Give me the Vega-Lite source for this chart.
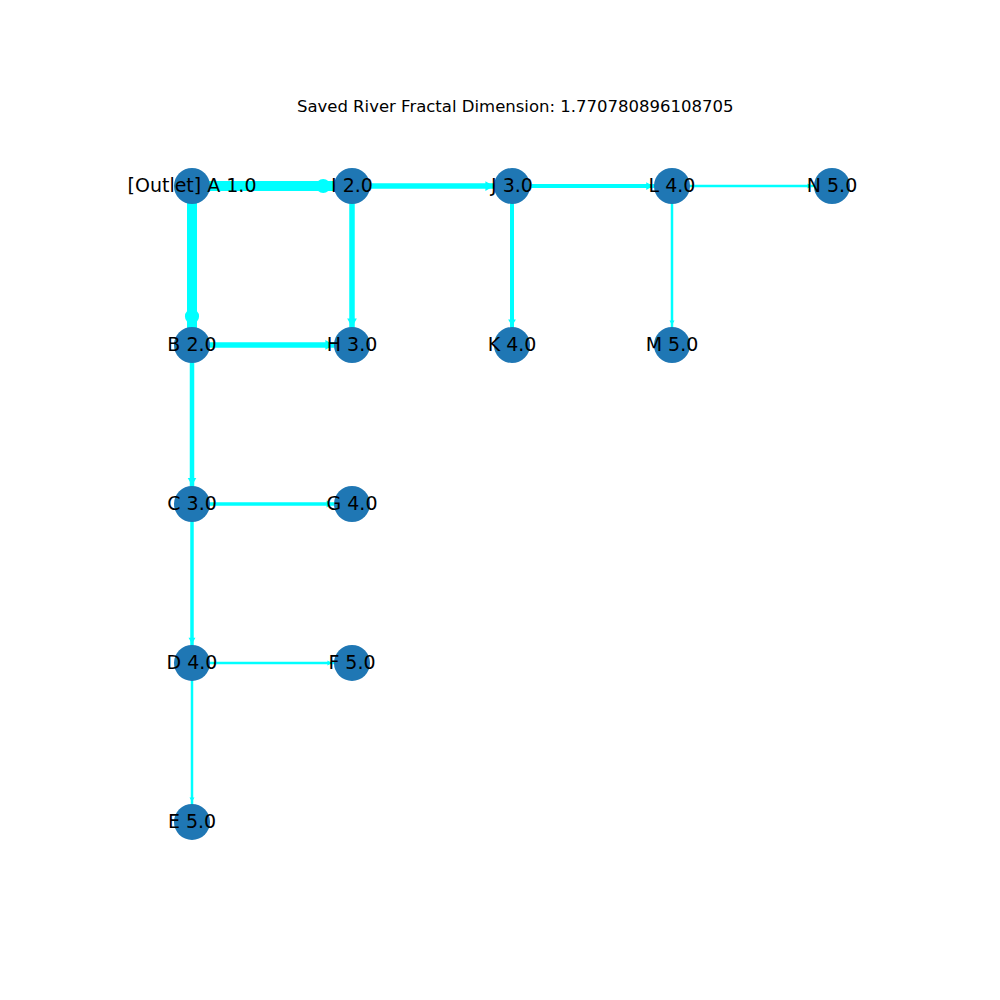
{
  "$schema": "https://vega.github.io/schema/vega-lite/v6.json",
  "width": 1000,
  "height": 1000,
  "autosize": {"type": "fit", "contains": "padding"},
  "padding": 0,
  "config": {"view": {"stroke": null}},
  "datasets": {
    "nodes": [
      {"name": "[Outlet] A 1.0", "x": 0, "y": 0},
      {"name": "I 2.0", "x": 1, "y": 0},
      {"name": "J 3.0", "x": 2, "y": 0},
      {"name": "L 4.0", "x": 3, "y": 0},
      {"name": "N 5.0", "x": 4, "y": 0},
      {"name": "B 2.0", "x": 0, "y": 1},
      {"name": "H 3.0", "x": 1, "y": 1},
      {"name": "K 4.0", "x": 2, "y": 1},
      {"name": "M 5.0", "x": 3, "y": 1},
      {"name": "C 3.0", "x": 0, "y": 2},
      {"name": "G 4.0", "x": 1, "y": 2},
      {"name": "D 4.0", "x": 0, "y": 3},
      {"name": "F 5.0", "x": 1, "y": 3},
      {"name": "E 5.0", "x": 0, "y": 4}
    ],
    "edges": [
      {"x1": 0, "y1": 0, "x2": 1, "y2": 0, "w": 10, "ax": 0.82, "ay": 0, "dir": "circle"},
      {"x1": 0, "y1": 0, "x2": 0, "y2": 1, "w": 10, "ax": 0, "ay": 0.82, "dir": "circle"},
      {"x1": 1, "y1": 0, "x2": 2, "y2": 0, "w": 5.5, "ax": 1.86, "ay": 0, "dir": "triangle-right"},
      {"x1": 1, "y1": 0, "x2": 1, "y2": 1, "w": 5.5, "ax": 1, "ay": 0.86, "dir": "triangle-down"},
      {"x1": 0, "y1": 1, "x2": 1, "y2": 1, "w": 5.5, "ax": 0.86, "ay": 1, "dir": "triangle-right"},
      {"x1": 0, "y1": 1, "x2": 0, "y2": 2, "w": 4.5, "ax": 0, "ay": 1.86, "dir": "triangle-down"},
      {"x1": 2, "y1": 0, "x2": 3, "y2": 0, "w": 4, "ax": 2.86, "ay": 0, "dir": "triangle-right"},
      {"x1": 2, "y1": 0, "x2": 2, "y2": 1, "w": 4, "ax": 2, "ay": 0.86, "dir": "triangle-down"},
      {"x1": 0, "y1": 2, "x2": 1, "y2": 2, "w": 3.5, "ax": 0.86, "ay": 2, "dir": "triangle-right"},
      {"x1": 0, "y1": 2, "x2": 0, "y2": 3, "w": 3.5, "ax": 0, "ay": 2.86, "dir": "triangle-down"},
      {"x1": 3, "y1": 0, "x2": 4, "y2": 0, "w": 2.5, "ax": 3.86, "ay": 0, "dir": "triangle-right"},
      {"x1": 3, "y1": 0, "x2": 3, "y2": 1, "w": 2.5, "ax": 3, "ay": 0.86, "dir": "triangle-down"},
      {"x1": 0, "y1": 3, "x2": 1, "y2": 3, "w": 2.5, "ax": 0.86, "ay": 3, "dir": "triangle-right"},
      {"x1": 0, "y1": 3, "x2": 0, "y2": 4, "w": 2.5, "ax": 0, "ay": 3.86, "dir": "triangle-down"}
    ],
    "title": [{"t": "Saved River Fractal Dimension: 1.770780896108705", "x": 2.02, "y": -0.5}]
  },
  "layer": [
    {
      "data": {"name": "edges"},
      "mark": {"type": "rule", "color": "#00ffff"},
      "encoding": {
        "x": {"field": "x1", "type": "quantitative", "scale": {"domain": [-1.2, 5.05], "nice": false, "zero": false}, "axis": null},
        "y": {"field": "y1", "type": "quantitative", "scale": {"domain": [-1.17, 5.12], "nice": false, "zero": false, "reverse": true}, "axis": null},
        "x2": {"field": "x2"},
        "y2": {"field": "y2"},
        "strokeWidth": {"field": "w", "type": "quantitative", "scale": null, "legend": null}
      }
    },
    {
      "data": {"name": "edges"},
      "mark": {"type": "point", "filled": true, "color": "#00ffff", "opacity": 1},
      "encoding": {
        "x": {"field": "ax", "type": "quantitative"},
        "y": {"field": "ay", "type": "quantitative"},
        "shape": {"field": "dir", "type": "nominal", "scale": null, "legend": null},
        "size": {"field": "w", "type": "quantitative", "scale": {"domain": [2.5, 10], "range": [25, 200]}, "legend": null}
      }
    },
    {
      "data": {"name": "nodes"},
      "mark": {"type": "circle", "color": "#1f77b4", "opacity": 1, "size": 1300},
      "encoding": {
        "x": {"field": "x", "type": "quantitative"},
        "y": {"field": "y", "type": "quantitative"}
      }
    },
    {
      "data": {"name": "nodes"},
      "mark": {"type": "text", "fontSize": 19, "font": "DejaVu Sans", "color": "black"},
      "encoding": {
        "x": {"field": "x", "type": "quantitative"},
        "y": {"field": "y", "type": "quantitative"},
        "text": {"field": "name"}
      }
    },
    {
      "data": {"name": "title"},
      "mark": {"type": "text", "fontSize": 16.5, "font": "DejaVu Sans", "color": "black"},
      "encoding": {
        "x": {"field": "x", "type": "quantitative"},
        "y": {"field": "y", "type": "quantitative"},
        "text": {"field": "t"}
      }
    }
  ]
}
